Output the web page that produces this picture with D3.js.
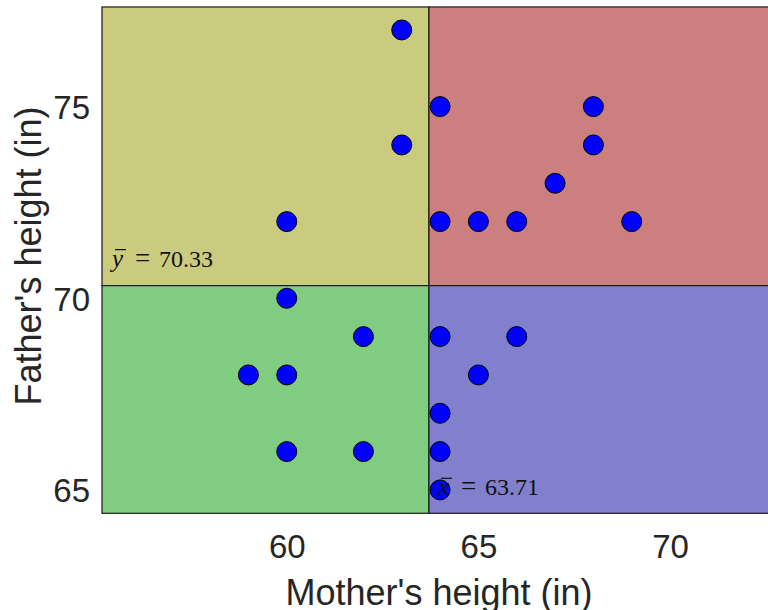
<!DOCTYPE html>
<html>
<head>
<meta charset="utf-8">
<script src="https://cdn.jsdelivr.net/npm/d3@7"></script>
<style>
  html, body { margin: 0; padding: 0; background: #fff; overflow: hidden; }
  svg { display: block; }
</style>
</head>
<body>
<svg id="chart" width="768" height="610"></svg>
<script>
// Mother's and father's heights (inches)
const motherHeights = [63, 63, 64, 68, 68, 67, 60, 64, 65, 66, 69, 60, 62, 64, 66, 59, 60, 65, 64, 60, 62, 64, 64];
const fatherHeights = [77, 74, 75, 75, 74, 73, 72, 72, 72, 72, 72, 70, 69, 69, 69, 68, 68, 68, 67, 66, 66, 66, 65];
const xTicks = [60, 65, 70];
const yTicks = [65, 70, 75];
const meanX = 63.71;
const meanY = 70.33;
const quadrantColors = { upperLeft: "#cbcb80", upperRight: "#cc7f7f", lowerLeft: "#80cc80", lowerRight: "#8080cc" };

const svg = d3.select("#chart");
const unit = 38.33;
const plotLeft = 102, plotBottom = 513.3;
const xMin = 55.18, xMax = 73.2;
const yMin = 64.39, yMax = 77.6;

const x = d3.scaleLinear().domain([xMin, xMax]).range([plotLeft, plotLeft + (xMax - xMin) * unit]);
const y = d3.scaleLinear().domain([yMin, yMax]).range([plotBottom, plotBottom - (yMax - yMin) * unit]);

const g = svg.append("g");

// Quadrants split at the means
const quads = [
  { x0: xMin, x1: meanX, y0: meanY, y1: yMax, c: quadrantColors.upperLeft },
  { x0: meanX, x1: xMax, y0: meanY, y1: yMax, c: quadrantColors.upperRight },
  { x0: xMin, x1: meanX, y0: yMin, y1: meanY, c: quadrantColors.lowerLeft },
  { x0: meanX, x1: xMax, y0: yMin, y1: meanY, c: quadrantColors.lowerRight }
];
g.selectAll("rect.quad").data(quads).join("rect")
  .attr("class", "quad")
  .attr("x", d => x(d.x0)).attr("y", d => y(d.y1))
  .attr("width", d => x(d.x1) - x(d.x0))
  .attr("height", d => y(d.y0) - y(d.y1))
  .attr("fill", d => d.c)
  .attr("stroke", "#1a1a1a").attr("stroke-width", 1.2);

// Axis tick labels (no tick marks)
const xAxis = d3.axisBottom(x).tickValues(xTicks).tickSize(0).tickPadding(0);
const xg = svg.append("g").attr("transform", `translate(0,${plotBottom})`).call(xAxis);
xg.select(".domain").remove();
xg.selectAll("text")
  .attr("dy", null).attr("y", 45)
  .attr("font-family", "'Liberation Sans', Arial, sans-serif")
  .attr("font-size", 33).attr("fill", "#262626");

const yAxis = d3.axisLeft(y).tickValues(yTicks).tickSize(0).tickPadding(12);
const yg = svg.append("g").attr("transform", `translate(${plotLeft},0)`).call(yAxis);
yg.select(".domain").remove();
yg.selectAll("text")
  .attr("dy", "0.36em")
  .attr("font-family", "'Liberation Sans', Arial, sans-serif")
  .attr("font-size", 33).attr("fill", "#262626");

// Data points
const pts = motherHeights.map((m, i) => ({ m, f: fatherHeights[i] }));
g.selectAll("circle.pt").data(pts).join("circle")
  .attr("class", "pt")
  .attr("cx", d => x(d.m)).attr("cy", d => y(d.f))
  .attr("r", 10)
  .attr("fill", "#0000ff")
  .attr("stroke", "#000").attr("stroke-width", 1);

// Mean annotations, set like a math expression: barred symbol, "=", value
function meanLabel(px, py, sym, val) {
  const lbl = svg.append("g").attr("transform", `translate(${px},${py})`)
    .attr("font-family", "'Liberation Serif', 'Times New Roman', serif")
    .attr("fill", "#111");
  lbl.append("text").attr("x", 0).attr("y", 0)
    .attr("font-size", 25).attr("font-style", "italic").text(sym);
  lbl.append("line")
    .attr("x1", 3).attr("x2", 14).attr("y1", -17).attr("y2", -17)
    .attr("stroke", "#111").attr("stroke-width", 1.2);
  lbl.append("text").attr("x", 23).attr("y", 0)
    .attr("font-size", 27).text("=");
  lbl.append("text").attr("x", 47).attr("y", 0)
    .attr("font-size", 24).text(val.toFixed(2));
}
meanLabel(plotLeft + 10, y(meanY) - 19, "y", meanY);
meanLabel(x(meanX) + 9, plotBottom - 18, "x", meanX);

// Axis titles
svg.append("text")
  .attr("x", 439).attr("y", 605)
  .attr("text-anchor", "middle")
  .attr("font-family", "'Liberation Sans', Arial, sans-serif")
  .attr("font-size", 36).attr("fill", "#262626")
  .text("Mother's height (in)");

svg.append("text")
  .attr("transform", "translate(41,256) rotate(-90)")
  .attr("text-anchor", "middle")
  .attr("font-family", "'Liberation Sans', Arial, sans-serif")
  .attr("font-size", 36).attr("fill", "#262626")
  .text("Father's height (in)");
</script>
</body>
</html>
